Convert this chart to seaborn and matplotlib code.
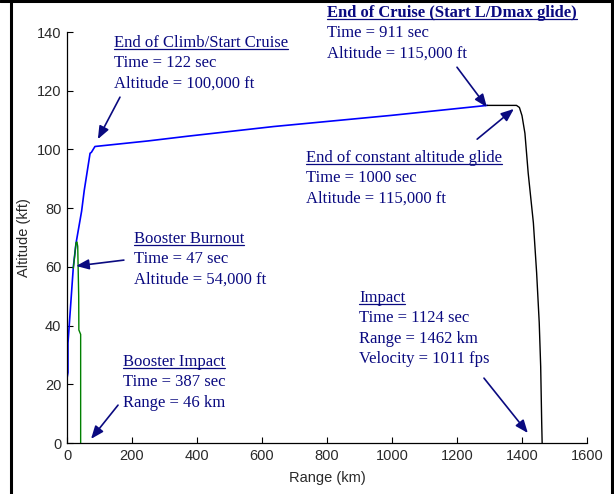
import matplotlib
matplotlib.use("Agg")
import matplotlib.pyplot as plt
from matplotlib.lines import Line2D
import pandas as pd
import seaborn as sns

# Missile trajectory: range (km) vs altitude (kft)
climb_range = [0, 0, 3, 3, 10, 19.5, 27.7, 45, 53, 71, 75, 86]
climb_alt = [0, 22, 24, 34, 45, 60, 68, 79, 86, 98.7, 99, 101]
cruise_range = [86, 250, 371, 636, 998, 1293]
cruise_alt = [101, 102.9, 104.5, 107.8, 111.6, 115]
glide_range = [1293, 1383, 1392, 1400, 1409, 1419, 1435, 1445, 1453, 1457.5, 1460.6, 1462]
glide_alt = [115, 115, 114.3, 111.5, 105.5, 92, 75, 58, 41, 26, 7, 0]
booster_range = [19.5, 27.7, 30.5, 33, 36, 36.5, 42, 42]
booster_alt = [59.5, 68.2, 68.5, 67, 50, 38.5, 37, 0]

x_ticks = [0, 200, 400, 600, 800, 1000, 1200, 1400, 1600]
y_ticks = [0, 20, 40, 60, 80, 100, 120, 140]

sns.set_theme(style="white")
plt.rcParams["font.family"] = ["Liberation Sans", "DejaVu Sans"]

W, H = 614, 494
fig = plt.figure(figsize=(W / 100, H / 100), dpi=100)
ax = fig.add_axes([67 / W, 1 - 443 / H, 520 / W, 411 / H])

blue_df = pd.DataFrame({"range": climb_range + cruise_range[1:],
                        "alt": climb_alt + cruise_alt[1:]})
sns.lineplot(data=blue_df, x="range", y="alt", sort=False, estimator=None,
             color="#0000ff", lw=1.2, ax=ax)
sns.lineplot(x=glide_range, y=glide_alt, sort=False, estimator=None,
             color="black", lw=1.0, ax=ax)
sns.lineplot(x=booster_range, y=booster_alt, sort=False, estimator=None,
             color="#008000", lw=1.0, ax=ax)

ax.set_xlim(0, 1600)
ax.set_ylim(0, 140)
ax.set_xticks(x_ticks)
ax.set_yticks(y_ticks)
ax.set_xticklabels([str(v) for v in x_ticks])
ax.set_yticklabels([str(v) for v in y_ticks])
ax.tick_params(direction="in", length=4, width=0.8, colors="black",
               labelsize=10.5, labelcolor="#2a2a2a", pad=4,
               bottom=True, left=True)
for s in ["top", "right"]:
    ax.spines[s].set_visible(False)
for s in ["left", "bottom"]:
    ax.spines[s].set_color("black")
    ax.spines[s].set_linewidth(0.9)
ax.set_xlabel("Range (km)", fontsize=10.5, color="#2a2a2a", labelpad=6)
ax.set_ylabel("Altitude (kft)", fontsize=10.5, color="#2a2a2a", labelpad=4)
ax.grid(False)
ax.set_facecolor("white")

# Event annotations
NAVY = "#0a0a80"
SERIF = ["Liberation Serif", "DejaVu Serif"]
headings = []


def place_block(x_px, y_px, heading, lines, bold=False):
    """Text block with an underlined heading; y_px is first baseline from top."""
    t = fig.text(x_px / W, 1 - y_px / H, heading, family=SERIF, fontsize=12,
                 color=NAVY, ha="left", va="baseline",
                 fontweight="bold" if bold else "normal")
    headings.append(t)
    for i, line in enumerate(lines, start=1):
        fig.text(x_px / W, 1 - (y_px + 20.3 * i) / H, line, family=SERIF,
                 fontsize=12, color=NAVY, ha="left", va="baseline")


place_block(114, 47, "End of Climb/Start Cruise",
            ["Time = 122 sec", "Altitude = 100,000 ft"])
place_block(327, 17, "End of Cruise (Start L/Dmax glide)",
            ["Time = 911 sec", "Altitude = 115,000 ft"], bold=True)
place_block(306, 162, "End of constant altitude glide",
            ["Time = 1000 sec", "Altitude = 115,000 ft"])
place_block(134, 243, "Booster Burnout",
            ["Time = 47 sec", "Altitude = 54,000 ft"])
place_block(359, 302, "Impact",
            ["Time = 1124 sec", "Range = 1462 km", "Velocity = 1011 fps"])
place_block(123, 366, "Booster Impact",
            ["Time = 387 sec", "Range = 46 km"])

arrows = [
    ((95, 103.5), (163, 117.8)),
    ((1292, 114.4), (1200, 128)),
    ((1375, 113.8), (1262, 103.5)),
    ((28, 60.3), (175, 62.3)),
    ((74, 1.4), (157, 12.9)),
    ((1418, 3.4), (1283, 22.1)),
]
for head, tail in arrows:
    ax.annotate("", xy=head, xytext=tail, annotation_clip=False,
                arrowprops=dict(arrowstyle="-|>,head_length=0.55,head_width=0.22",
                                color=NAVY, lw=1.2, mutation_scale=14,
                                shrinkA=0, shrinkB=0))

# Underline the headings
fig.canvas.draw()
renderer = fig.canvas.get_renderer()
for t in headings:
    bb = t.get_window_extent(renderer)
    x0, x1 = bb.x0 / W, bb.x1 / W
    base_y = t.get_position()[1] - 2.2 / H
    fig.add_artist(Line2D([x0, x1], [base_y, base_y], color=NAVY, lw=0.9,
                          transform=fig.transFigure))

# Outer frame (left, top, right)
fig.add_artist(Line2D([11 / W, 11 / W], [0, 1], color="black", lw=2.2,
                      transform=fig.transFigure))
fig.add_artist(Line2D([0, 1], [1 - 1 / H, 1 - 1 / H], color="black", lw=2.2,
                      transform=fig.transFigure))
fig.add_artist(Line2D([611.5 / W, 611.5 / W], [0, 1], color="black", lw=2.2,
                      transform=fig.transFigure))

fig.savefig("out.png", dpi=100, facecolor="white")
